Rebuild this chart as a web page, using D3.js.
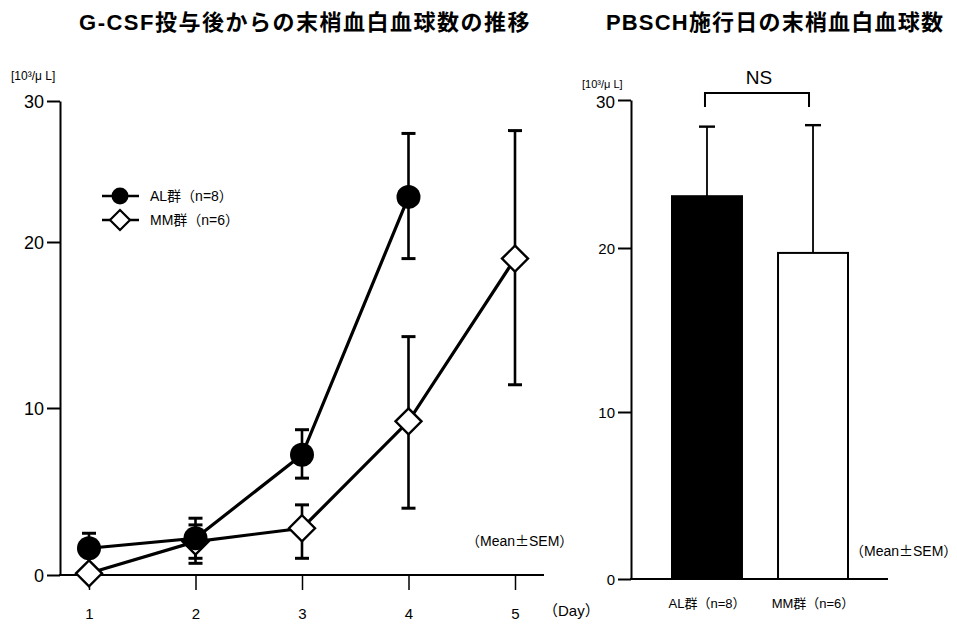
<!DOCTYPE html>
<html>
<head>
<meta charset="utf-8">
<script src="https://cdn.jsdelivr.net/npm/d3@7"></script>
<style>
  html, body { margin: 0; padding: 0; background: #fff; }
  svg { display: block; }
  text { font-family: "Liberation Sans", Arial, "Noto Sans CJK JP", sans-serif; fill: #000; }
</style>
</head>
<body>
<svg id="chart" width="957" height="624"></svg>
<script>
// Time course after G-CSF (days 1-5)
const days = [1, 2, 3, 4, 5];
const alMean  = [1.6, 2.2, 7.2, 23.2];
const alUpper = [2.5, 3.4, 8.7, 27.7];
const alLower = [0.3, 1.0, 5.8, 19.0];
const mmMean  = [0.1, 2.0, 2.8, 9.2, 19.0];
const mmUpper = [0.1, 3.0, 4.2, 14.3, 27.9];
const mmLower = [0.1, 0.7, 1.0, 4.0, 11.4];
const yTicks = [0, 10, 20, 30];

// Counts on PBSCH day
const groups = ["AL群（n=8）", "MM群（n=6）"];
const barMean  = [23.5, 19.7];
const barUpper = [28.2, 28.3];

const svg = d3.select("#chart");
svg.append("rect").attr("width", 957).attr("height", 624).attr("fill", "#fff");

// ---------- titles ----------
svg.append("text").attr("x", 305).attr("y", 30).attr("text-anchor", "middle")
  .attr("font-size", 22).attr("font-weight", "bold").attr("letter-spacing", 1.5)
  .text("G-CSF投与後からの末梢血白血球数の推移");
svg.append("text").attr("x", 775).attr("y", 30).attr("text-anchor", "middle")
  .attr("font-size", 22).attr("font-weight", "bold").attr("letter-spacing", 1.2)
  .text("PBSCH施行日の末梢血白血球数");

// "（Mean±SEM）" with a full-width plus-minus sign
function meanSem(g, x, y, size) {
  const t = g.append("text").attr("x", x).attr("y", y).attr("font-size", size);
  t.append("tspan").text("（Mean");
  t.append("tspan").attr("font-family", "Noto Sans CJK JP").text("±");
  t.append("tspan").text("SEM）");
}

// ---------- left panel: line chart ----------
const xL = d3.scaleLinear().domain([1, 5]).range([89, 515]);
const yL = d3.scaleLinear().domain(yTicks).range([575, 408, 242, 101]);

const gL = svg.append("g");
gL.append("text").attr("x", 11).attr("y", 80).attr("font-size", 12).text("[10³/μ L]");

const yAxisL = gL.append("g").attr("transform", "translate(60,0)")
  .call(d3.axisLeft(yL).tickValues(yTicks).tickSize(13).tickSizeOuter(0).tickPadding(3));
yAxisL.selectAll("path, line").attr("stroke", "#000").attr("stroke-width", 2);
yAxisL.selectAll("text").attr("font-size", 18).attr("font-family", null).attr("dy", "0.35em");

const xAxisL = gL.append("g").attr("transform", "translate(0,575)")
  .call(d3.axisBottom(xL).tickValues(days).tickFormat(d3.format("d")).tickSize(15).tickPadding(18));
xAxisL.select(".domain").remove();
xAxisL.selectAll("line").attr("stroke", "#000").attr("stroke-width", 1.5);
xAxisL.selectAll("text").attr("font-size", 15).attr("font-family", null);
gL.append("line").attr("x1", 59).attr("x2", 544).attr("y1", 575).attr("y2", 575)
  .attr("stroke", "#000").attr("stroke-width", 2);
gL.append("text").attr("x", 543).attr("y", 616).attr("font-size", 15).text("（Day）");

const line = d3.line().x((d, i) => xL(days[i])).y(d => yL(d));
gL.append("path").attr("d", line(mmMean)).attr("fill", "none")
  .attr("stroke", "#000").attr("stroke-width", 3.2);
gL.append("path").attr("d", line(alMean)).attr("fill", "none")
  .attr("stroke", "#000").attr("stroke-width", 3.2);

function errorBars(means, up, lo) {
  means.forEach((m, i) => {
    if (up[i] === lo[i]) return;
    const x = xL(days[i]);
    const g = gL.append("g").attr("stroke", "#000").attr("stroke-width", 2.6);
    g.append("line").attr("x1", x).attr("x2", x).attr("y1", yL(up[i])).attr("y2", yL(lo[i]));
    g.append("line").attr("x1", x - 7).attr("x2", x + 7).attr("y1", yL(up[i])).attr("y2", yL(up[i])).attr("stroke-width", 3);
    g.append("line").attr("x1", x - 7).attr("x2", x + 7).attr("y1", yL(lo[i])).attr("y2", yL(lo[i])).attr("stroke-width", 3);
  });
}
errorBars(mmMean, mmUpper, mmLower);
errorBars(alMean, alUpper, alLower);

const diamond = s => `M0,${-s}L${s},0L0,${s}L${-s},0Z`;
gL.selectAll(".mm").data(mmMean).join("path").attr("class", "mm")
  .attr("transform", (d, i) => `translate(${xL(days[i])},${yL(d)})`)
  .attr("d", diamond(13)).attr("fill", "#fff").attr("stroke", "#000").attr("stroke-width", 2.4);
gL.selectAll(".al").data(alMean).join("circle").attr("class", "al")
  .attr("cx", (d, i) => xL(days[i])).attr("cy", d => yL(d)).attr("r", 12).attr("fill", "#000");

// legend
const lg = gL.append("g");
lg.append("line").attr("x1", 102).attr("x2", 139).attr("y1", 196).attr("y2", 196).attr("stroke", "#000").attr("stroke-width", 2.6);
lg.append("circle").attr("cx", 120).attr("cy", 196).attr("r", 8.5).attr("fill", "#000");
lg.append("text").attr("x", 150).attr("y", 201).attr("font-size", 14).text("AL群（n=8）");
lg.append("line").attr("x1", 102).attr("x2", 139).attr("y1", 220).attr("y2", 220).attr("stroke", "#000").attr("stroke-width", 2.6);
lg.append("path").attr("transform", "translate(120,220)").attr("d", diamond(10))
  .attr("fill", "#fff").attr("stroke", "#000").attr("stroke-width", 2.2);
lg.append("text").attr("x", 150).attr("y", 225).attr("font-size", 14).text("MM群（n=6）");

meanSem(gL, 466, 546, 14);

// ---------- right panel: bar chart ----------
const xR = d3.scaleBand().domain(groups).range([672, 848]).paddingInner(0.34);
const yR = d3.scaleLinear().domain(yTicks).range([579, 412, 248, 100]);
const gR = svg.append("g");

gR.append("text").attr("x", 582).attr("y", 88).attr("font-size", 11).text("[10³/μ L]");

const yAxisR = gR.append("g").attr("transform", "translate(631,0)")
  .call(d3.axisLeft(yR).tickValues(yTicks).tickSize(13).tickSizeOuter(0).tickPadding(3));
yAxisR.selectAll("path, line").attr("stroke", "#000").attr("stroke-width", 2);
yAxisR.selectAll("text").attr("font-size", 15).attr("font-family", null).attr("dy", "0.35em");
yAxisR.selectAll(".tick").filter(d => d === 30).select("text").attr("font-size", 17).attr("dy", "0.45em");

gR.append("line").attr("x1", 630).attr("x2", 888).attr("y1", 579).attr("y2", 579)
  .attr("stroke", "#000").attr("stroke-width", 2);

// error bars (upper only)
groups.forEach((g, i) => {
  const cx = xR(g) + xR.bandwidth() / 2;
  gR.append("line").attr("x1", cx).attr("x2", cx).attr("y1", yR(barUpper[i])).attr("y2", yR(barMean[i]))
    .attr("stroke", "#000").attr("stroke-width", 1.8);
  gR.append("line").attr("x1", cx - 8).attr("x2", cx + 8).attr("y1", yR(barUpper[i])).attr("y2", yR(barUpper[i]))
    .attr("stroke", "#000").attr("stroke-width", 2.4);
});

gR.selectAll(".bar").data(barMean).join("rect").attr("class", "bar")
  .attr("x", (d, i) => xR(groups[i])).attr("width", xR.bandwidth())
  .attr("y", d => yR(d)).attr("height", d => yR(0) - yR(d))
  .attr("fill", (d, i) => i === 0 ? "#000" : "#fff")
  .attr("stroke", "#000").attr("stroke-width", 2);

gR.selectAll(".cat").data(groups).join("text").attr("class", "cat")
  .attr("x", d => xR(d) + xR.bandwidth() / 2).attr("y", 608)
  .attr("text-anchor", "middle").attr("font-size", 13).text(d => d);

// significance bracket
const bx1 = xR(groups[0]) + xR.bandwidth() / 2 - 2;
const bx2 = xR(groups[1]) + xR.bandwidth() / 2 - 4;
gR.append("path").attr("d", `M${bx1},107V93H${bx2}V107`).attr("fill", "none")
  .attr("stroke", "#000").attr("stroke-width", 2);
gR.append("text").attr("x", (bx1 + bx2) / 2 + 2).attr("y", 84).attr("text-anchor", "middle")
  .attr("font-size", 19).text("NS");

meanSem(gR, 850, 556, 14);
</script>
</body>
</html>
